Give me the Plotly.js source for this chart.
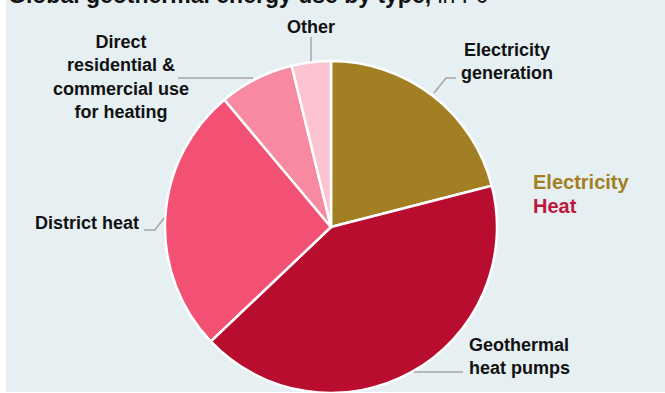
<!DOCTYPE html>
<html>
<head>
<meta charset="utf-8">
<script src="https://cdn.plot.ly/plotly-3.0.1.min.js"></script>
<style>
  html, body { margin: 0; padding: 0; background: #ffffff; }
  #chart { width: 665px; height: 393px; }
</style>
</head>
<body>
<div id="chart"></div>
<script>
// ---- Data (shares of global geothermal energy use) ----
const categories = [
  "Electricity generation",
  "Geothermal heat pumps",
  "District heat",
  "Direct residential & commercial use for heating",
  "Other"
];
const values = [21.0, 41.9, 26.0, 7.3, 3.8];
const groups = ["Electricity", "Heat", "Heat", "Heat", "Heat"];
const labelTexts = [
  "Electricity<br>generation",
  "Geothermal<br>heat pumps",
  "District heat",
  "Direct<br>residential &amp;<br>commercial use<br>for heating",
  "Other"
];
const legendNames = ["Electricity", "Heat"];

// ---- Styling ----
const W = 665, H = 393;
const sliceColors = ["#a37f24", "#b90d30", "#f25173", "#f78aa0", "#fbc4d0"];
const legendColors = ["#a37f24", "#c0183c"];
const FONT = "Liberation Sans, Arial, Helvetica, sans-serif";
const px = x => x / W;
const py = y => 1 - y / H;

const trace = {
  type: "pie",
  labels: categories,
  values: values,
  sort: false,
  direction: "clockwise",
  rotation: 0,
  textinfo: "none",
  hoverinfo: "label+value",
  marker: { colors: sliceColors, line: { color: "#ffffff", width: 2.5 } },
  domain: { x: [px(165), px(497)], y: [0, py(61)] },
  showlegend: false
};

// label positions (layout only)
const labelPos = [
  { x: 507, y: 61, xanchor: "center", align: "center" },
  { x: 467, y: 356, xanchor: "left", align: "left" },
  { x: 141, y: 223, xanchor: "right", align: "right" },
  { x: 121, y: 77, xanchor: "center", align: "center" },
  { x: 311, y: 27, xanchor: "center", align: "center" }
];

const annotations = labelTexts.map((t, i) => ({
  text: "<b>" + t + "</b>",
  xref: "paper", yref: "paper",
  x: px(labelPos[i].x), y: py(labelPos[i].y),
  xanchor: labelPos[i].xanchor, yanchor: "middle",
  align: labelPos[i].align,
  showarrow: false,
  font: { family: FONT, size: 18, color: "#111111" }
}));

legendNames.forEach((n, i) => {
  annotations.push({
    text: "<b>" + n + "</b>",
    xref: "paper", yref: "paper",
    x: px(531), y: py(182 + i * 24),
    xanchor: "left", yanchor: "middle",
    showarrow: false,
    font: { family: FONT, size: 20, color: legendColors[i] }
  });
});

annotations.push({
  text: "<b>Global geothermal energy use by type,</b> in PJ",
  xref: "paper", yref: "paper",
  x: px(6), y: py(-5),
  xanchor: "left", yanchor: "middle",
  showarrow: false,
  font: { family: FONT, size: 23, color: "#111111" }
});

function path(points) {
  return "M" + points.map(p => px(p[0]) + "," + py(p[1])).join(" L");
}
const leader = { color: "#a6a6a6", width: 1.5 };
const shapes = [
  { type: "rect", xref: "paper", yref: "paper", x0: px(6), x1: 1, y0: py(392), y1: 1,
    fillcolor: "#e6eff2", line: { width: 0 }, layer: "below" },
  { type: "path", xref: "paper", yref: "paper", path: path([[311, 37], [311, 61]]), line: leader },
  { type: "path", xref: "paper", yref: "paper", path: path([[456, 78], [446, 78], [434, 93]]), line: leader },
  { type: "path", xref: "paper", yref: "paper", path: path([[178, 78], [253, 78]]), line: leader },
  { type: "path", xref: "paper", yref: "paper", path: path([[144, 230], [155, 230], [164, 218]]), line: leader },
  { type: "path", xref: "paper", yref: "paper", path: path([[414, 372], [463, 372]]), line: leader }
];

const layout = {
  width: W, height: H,
  margin: { l: 0, r: 0, t: 0, b: 0 },
  paper_bgcolor: "#ffffff",
  showlegend: false,
  annotations: annotations,
  shapes: shapes,
  font: { family: FONT }
};

Plotly.newPlot("chart", [trace], layout, { displayModeBar: false, staticPlot: true });
</script>
</body>
</html>
